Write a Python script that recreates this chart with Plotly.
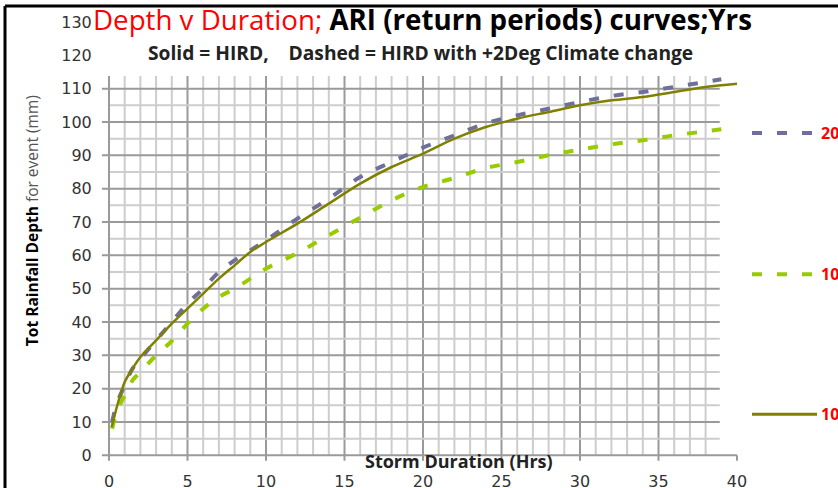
import plotly.graph_objects as go

# storm duration (hrs) and depth (mm)
x_hird = [0.17, 0.25, 0.5, 0.75, 1, 1.5, 2, 3, 4, 5, 6, 7, 8, 9, 10, 12, 14, 16, 18,
          20, 22, 24, 26, 28, 30, 32, 34, 36, 38, 40]
y_hird = [8.5, 10, 14.5, 18.5, 22, 26, 29.5, 34.5, 39.5, 44, 48.5, 53, 57, 61, 64, 69.5,
          75.5, 81.5, 86.5, 90.5, 95, 98.5, 101, 103, 105, 106.5, 107.5, 109, 110.5, 111.5]

x_cc = [0.2, 0.5, 1, 1.5, 2, 3, 4, 5, 6, 7, 8, 9, 10, 12, 14, 16, 18, 20, 22, 24, 26,
        28, 30, 32, 34, 36, 38, 39]
y_cc_top = [10, 15.5, 21, 26, 29, 34.5, 40, 45.5, 50, 55, 58.5, 61.5, 64.5, 71, 77, 83.5,
            88, 92.3, 96, 99.6, 102, 104, 106, 107.8, 109, 110.5, 112, 112.8]
y_cc_low = [8, 13, 18, 22.5, 25, 30, 34.3, 39.5, 44, 47.5, 50, 53, 56, 60.7, 66, 71.3,
            76.5, 80.5, 83.2, 86.2, 88, 90, 91.7, 93.3, 94.5, 96, 97.2, 97.8]

legend_names = ["20", "10", "10"]
x_ticks = [0, 5, 10, 15, 20, 25, 30, 35, 40]
y_ticks = list(range(0, 131, 10))

PURPLE = "#6f6f9c"
GREEN = "#99cc00"
OLIVE = "#808000"
MAJOR = "#9a9a9a"
MINOR = "#cdcdcd"

L, R, T, B = 98, 90, 17, 26.34
PW, PH = 838 - L - R, 488 - T - B


def px(xp):
    return (xp - L) / PW


def py(yp):
    return 1 - (yp - T) / PH


fig = go.Figure()
fig.add_trace(go.Scatter(x=x_cc, y=y_cc_low, mode="lines", line_shape="spline",
                         line=dict(color=GREEN, width=4, dash="10px,15px")))
fig.add_trace(go.Scatter(x=x_cc, y=y_cc_top, mode="lines", line_shape="spline",
                         line=dict(color=PURPLE, width=4, dash="10px,15px")))
fig.add_trace(go.Scatter(x=x_hird, y=y_hird, mode="lines", line_shape="spline",
                         line=dict(color=OLIVE, width=2.5)))

shapes = []
# graph paper grid
for i in range(1, 39):
    major = i % 5 == 0
    shapes.append(dict(type="line", xref="x", yref="y", x0=i, x1=i,
                       y0=-1.6 if major else 0, y1=113.8,
                       line=dict(color=MAJOR if major else MINOR, width=2), layer="below"))
for j in range(5, 111, 5):
    major = j % 10 == 0
    shapes.append(dict(type="line", xref="x", yref="y", y0=j, y1=j,
                       x0=-0.45 if major else 0, x1=38.9,
                       line=dict(color=MAJOR if major else MINOR, width=2), layer="below"))
# axes
shapes.append(dict(type="line", xref="x", yref="y", x0=0, x1=0, y0=-1.6, y1=113.8,
                   line=dict(color=MAJOR, width=2), layer="below"))
shapes.append(dict(type="line", xref="x", yref="y", x0=-0.45, x1=40, y0=0, y1=0,
                   line=dict(color=MAJOR, width=2), layer="below"))
shapes.append(dict(type="line", xref="x", yref="y", x0=40, x1=40, y0=-1.6, y1=0,
                   line=dict(color=MAJOR, width=2), layer="below"))

# frame
shapes.append(dict(type="line", xref="paper", yref="paper", x0=px(5), x1=px(5),
                   y0=py(500), y1=py(6), line=dict(color="black", width=3)))
shapes.append(dict(type="line", xref="paper", yref="paper", x0=px(5), x1=px(850),
                   y0=py(6), y1=py(6), line=dict(color="black", width=3)))

# legend samples
leg_y = [133, 274, 414]
leg_col = [PURPLE, GREEN, OLIVE]
leg_dash = ["10px,15px", "10px,15px", "solid"]
leg_w = [4, 4, 3]
annotations = []
for k in range(3):
    shapes.append(dict(type="line", xref="paper", yref="paper",
                       x0=px(752), x1=px(817), y0=py(leg_y[k]), y1=py(leg_y[k]),
                       line=dict(color=leg_col[k], width=leg_w[k], dash=leg_dash[k])))
    annotations.append(dict(xref="paper", yref="paper", x=px(819), y=py(leg_y[k]),
                            xanchor="left", yanchor="middle", showarrow=False,
                            text="<b>" + legend_names[k] + "</b>",
                            font=dict(color="red", size=16, family="Open Sans")))

annotations.append(dict(xref="paper", yref="paper", x=px(91), y=py(19),
                        xanchor="left", yanchor="middle", showarrow=False,
                        text="<span style='color:red'>Depth v Duration;</span> "
                             "<b>ARI (return periods) curves;Yrs</b>",
                        font=dict(size=27.7, family="Open Sans", color="black")))
annotations.append(dict(xref="paper", yref="paper", x=px(420), y=py(52),
                        xanchor="center", yanchor="middle", showarrow=False,
                        text="<b>Solid = HIRD,&nbsp;&nbsp;&nbsp; Dashed = HIRD with +2Deg Climate change</b>",
                        font=dict(size=19.2, family="Open Sans", color="#222222")))
annotations.append(dict(xref="paper", yref="paper", x=px(459), y=py(461),
                        xanchor="center", yanchor="middle", showarrow=False,
                        text="<b>Storm Duration (Hrs)</b>",
                        font=dict(size=18, family="Open Sans", color="#222222")))
annotations.append(dict(xref="paper", yref="paper", x=px(32), y=py(221),
                        xanchor="center", yanchor="middle", showarrow=False, textangle=-90,
                        text="<b>Tot Rainfall Depth</b> <span style='color:#555'>for event (mm)</span>",
                        font=dict(size=15.5, family="Open Sans", color="black")))

fig.update_layout(
    width=838, height=488,
    margin=dict(l=L, r=R, t=T, b=B),
    paper_bgcolor="white", plot_bgcolor="white",
    showlegend=False,
    shapes=shapes, annotations=annotations,
    xaxis=dict(range=[-0.7, 40.7], tickvals=x_ticks, showgrid=False, zeroline=False,
               showline=False, automargin=False, ticks="outside", ticklen=5,
               tickcolor="rgba(0,0,0,0)",
               tickfont=dict(size=16, family="DejaVu Sans", color="#333333")),
    yaxis=dict(range=[-2, 131.5], tickvals=y_ticks, showgrid=False, zeroline=False,
               showline=False, automargin=False, ticks="outside", ticklen=2,
               tickcolor="rgba(0,0,0,0)",
               tickfont=dict(size=16, family="DejaVu Sans", color="#333333")),
)

# page body has an 8px margin by default; drop it so the figure fills the window
fig.write_html("out.html", config={"displayModeBar": False},
               post_script="document.body.style.margin = '0';")
